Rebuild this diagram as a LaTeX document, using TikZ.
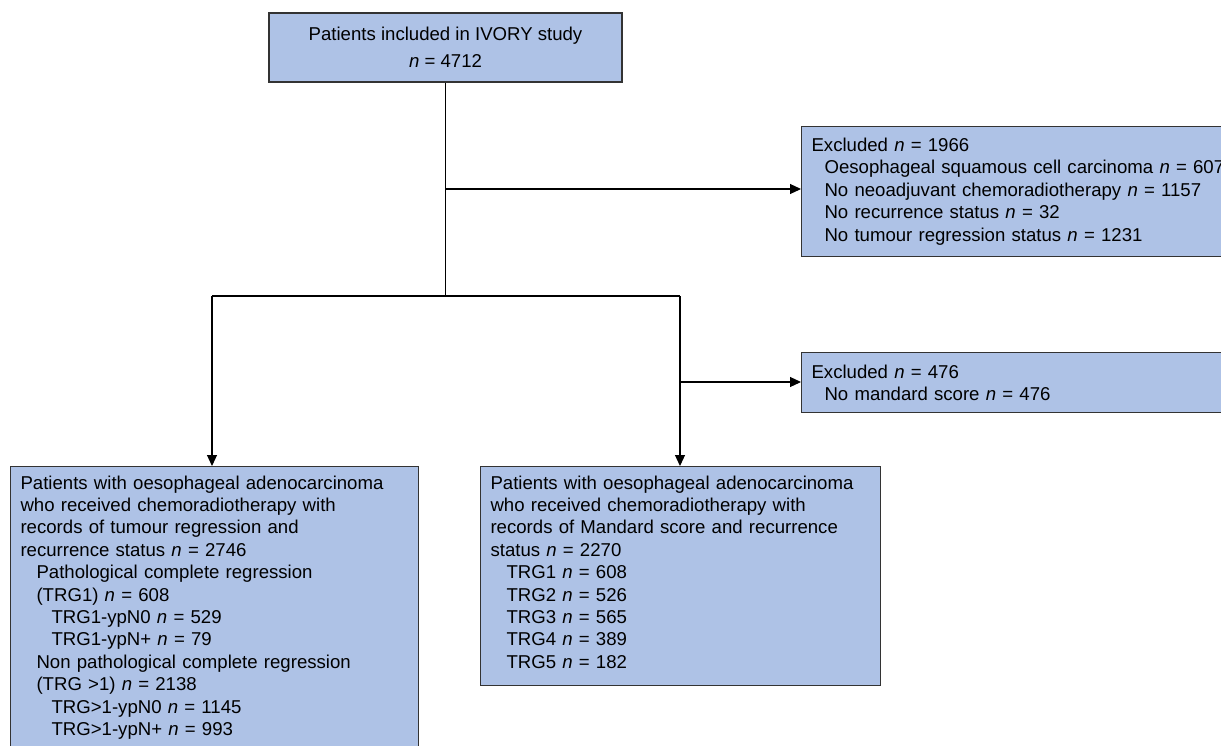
\documentclass[tikz,border=0pt]{standalone}
\usepackage{fontspec}
\setmainfont{Liberation Sans}
\usetikzlibrary{arrows.meta,positioning}
\definecolor{boxblue}{RGB}{174,194,230}

\tikzset{
  box/.style={draw=black!80, fill=boxblue, line width=1.1pt, inner xsep=10pt, inner ysep=9pt,
    font=\fontsize{18.6}{22.4}\selectfont, align=left},
  link/.style={line width=1.1pt},
  arr/.style={link, -{Triangle[length=11pt,width=10pt]}}
}

\begin{document}
\begin{tikzpicture}[x=1pt,y=-1pt] % pixel units, y downwards
\useasboundingbox (0,0) rectangle (1221,745);

\node[box, align=center, minimum width=353pt, minimum height=69pt,
  font=\fontsize{18.6}{27.5}\selectfont] (ivory) at (445.5,47.5)
  {Patients included in IVORY study\\\textit{n} = 4712};

\node[box, anchor=north west, text width=430pt, minimum height=130pt] (excl1) at (801,126)
  {Excluded \textit{n} = 1966\\
   \hspace*{13pt}Oesophageal squamous cell carcinoma \textit{n} = 607\\
   \hspace*{13pt}No neoadjuvant chemoradiotherapy \textit{n} = 1157\\
   \hspace*{13pt}No recurrence status \textit{n} = 32\\
   \hspace*{13pt}No tumour regression status \textit{n} = 1231};

\node[box, anchor=north west, text width=430pt, minimum height=60pt] (excl2) at (801,352)
  {Excluded \textit{n} = 476\\
   \hspace*{13pt}No mandard score \textit{n} = 476};

\node[box, anchor=north west, text width=388pt] (tumour) at (10,466)
  {Patients with oesophageal adenocarcinoma\\
   who received chemoradiotherapy with\\
   records of tumour regression and\\
   recurrence status \textit{n} = 2746\\
   \hspace*{16pt}Pathological complete regression\\
   \hspace*{16pt}(TRG1) \textit{n} = 608\\
   \hspace*{31pt}TRG1-ypN0 \textit{n} = 529\\
   \hspace*{31pt}TRG1-ypN+ \textit{n} = 79\\
   \hspace*{16pt}Non pathological complete regression\\
   \hspace*{16pt}(TRG >1) \textit{n} = 2138\\
   \hspace*{31pt}TRG>1-ypN0 \textit{n} = 1145\\
   \hspace*{31pt}TRG>1-ypN+ \textit{n} = 993\rule[-8pt]{0pt}{1pt}};

\node[box, anchor=north west, text width=380pt] (mandard) at (480,466)
  {Patients with oesophageal adenocarcinoma\\
   who received chemoradiotherapy with\\
   records of Mandard score and recurrence\\
   status \textit{n} = 2270\\
   \hspace*{16pt}TRG1 \textit{n} = 608\\
   \hspace*{16pt}TRG2 \textit{n} = 526\\
   \hspace*{16pt}TRG3 \textit{n} = 565\\
   \hspace*{16pt}TRG4 \textit{n} = 389\\
   \hspace*{16pt}TRG5 \textit{n} = 182\rule[-8pt]{0pt}{1pt}};

\coordinate (split1) at (445.5,189);
\coordinate (split2) at (445.5,296);
\coordinate (leftj) at (212,296);
\coordinate (rightj) at (680,296);
\coordinate (split3) at (680,382);

\draw[link] (ivory.south) -- (split2);
\draw[arr] (split1) -- (split1 -| excl1.west);
\draw[link] (leftj) -- (rightj);
\draw[arr] (leftj) -- (leftj |- tumour.north);
\draw[arr] (rightj) -- (rightj |- mandard.north);
\draw[arr] (split3) -- (split3 -| excl2.west);

\end{tikzpicture}
\end{document}
